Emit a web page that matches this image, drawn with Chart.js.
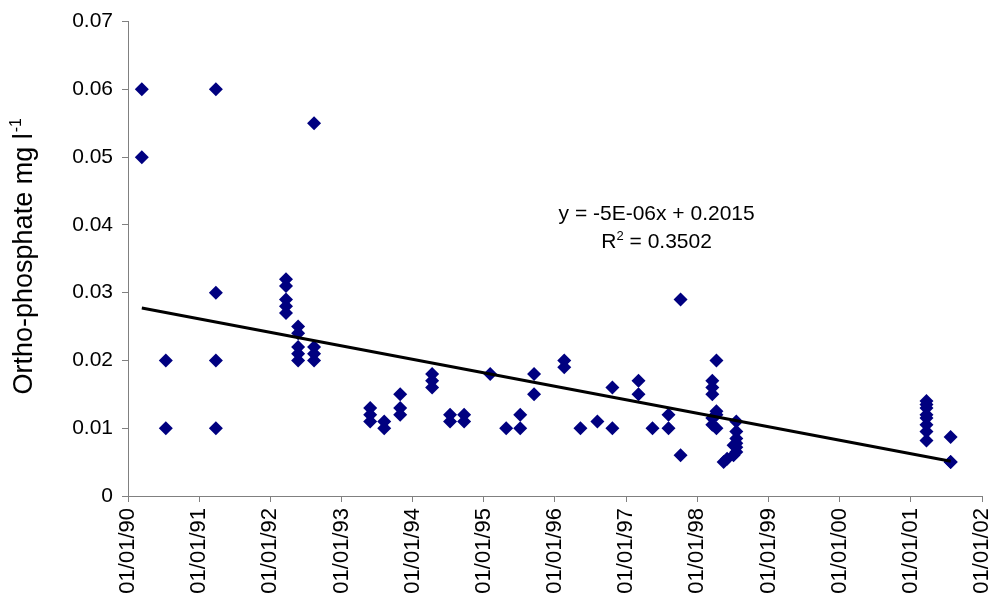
<!DOCTYPE html>
<html>
<head>
<meta charset="utf-8">
<script src="https://cdn.jsdelivr.net/npm/chart.js@4"></script>
<style>
  html, body { margin: 0; padding: 0; background: #fff; }
</style>
</head>
<body>
<canvas id="grafico" width="990" height="599"></canvas>
<script>
// sampling dates and ortho-phosphate values, mg/l
const sampleDates = [
  "1990-03-13", "1990-03-13",
  "1990-07-14", "1990-07-14",
  "1991-03-28", "1991-03-28", "1991-03-28", "1991-03-28",
  "1992-03-22", "1992-03-22", "1992-03-22", "1992-03-22", "1992-03-22",
  "1992-05-23", "1992-05-23", "1992-05-23", "1992-05-23", "1992-05-23",
  "1992-08-13", "1992-08-13", "1992-08-13", "1992-08-13",
  "1993-05-28", "1993-05-28", "1993-05-28",
  "1993-08-08", "1993-08-08",
  "1993-10-29", "1993-10-29", "1993-10-29",
  "1994-04-11", "1994-04-11", "1994-04-11",
  "1994-07-12", "1994-07-12",
  "1994-09-22", "1994-09-22",
  "1995-02-03",
  "1995-04-26",
  "1995-07-07", "1995-07-07",
  "1995-09-16", "1995-09-16",
  "1996-02-18", "1996-02-18",
  "1996-05-11",
  "1996-08-06",
  "1996-10-22", "1996-10-22",
  "1997-03-05", "1997-03-05",
  "1997-05-16",
  "1997-08-06", "1997-08-06",
  "1997-10-07", "1997-10-07",
  "1998-03-19", "1998-03-19", "1998-03-19", "1998-03-19", "1998-03-19",
  "1998-04-09", "1998-04-09", "1998-04-09", "1998-04-09",
  "1998-05-16",
  "1998-06-03",
  "1998-07-06", "1998-07-06",
  "1998-07-20", "1998-07-20", "1998-07-20", "1998-07-20", "1998-07-20", "1998-07-20",
  "2001-03-22", "2001-03-22", "2001-03-22", "2001-03-22", "2001-03-22", "2001-03-22", "2001-03-22", "2001-03-22",
  "2001-07-24", "2001-07-24", "2001-07-24"
];
const orthoPhosphate = [
  0.060, 0.050,
  0.020, 0.010,
  0.060, 0.030, 0.020, 0.010,
  0.032, 0.031, 0.029, 0.028, 0.027,
  0.025, 0.024, 0.022, 0.021, 0.020,
  0.055, 0.022, 0.021, 0.020,
  0.013, 0.012, 0.011,
  0.011, 0.010,
  0.015, 0.013, 0.012,
  0.018, 0.017, 0.016,
  0.012, 0.011,
  0.012, 0.011,
  0.018,
  0.010,
  0.012, 0.010,
  0.018, 0.015,
  0.020, 0.019,
  0.010,
  0.011,
  0.016, 0.010,
  0.017, 0.015,
  0.010,
  0.012, 0.010,
  0.029, 0.006,
  0.017, 0.016, 0.015, 0.0115, 0.0105,
  0.020, 0.0125, 0.012, 0.010,
  0.005,
  0.0055,
  0.006, 0.0075,
  0.011, 0.0095, 0.0085, 0.0078, 0.0072, 0.0065,
  0.014, 0.0135, 0.013, 0.012, 0.0115, 0.0105, 0.0095, 0.0082,
  0.0087, 0.005, 0.005
];
const tickYears = [1990, 1991, 1992, 1993, 1994, 1995, 1996, 1997, 1998, 1999, 2000, 2001, 2002];
const yTicks = [0, 0.01, 0.02, 0.03, 0.04, 0.05, 0.06, 0.07];
const equationText = "y = -5E-06x + 0.2015";
const r2Text = " = 0.3502";
const yTitle = "Ortho-phosphate mg l";

const DAY = 86400000;
function toDay(iso) {
  const p = iso.split("-").map(Number);
  return Date.UTC(p[0], p[1] - 1, p[2]) / DAY;
}
function fmtDay(d) {
  const dt = new Date(d * DAY);
  const dd = String(dt.getUTCDate()).padStart(2, "0");
  const mm = String(dt.getUTCMonth() + 1).padStart(2, "0");
  const yy = String(dt.getUTCFullYear() % 100).padStart(2, "0");
  return dd + "/" + mm + "/" + yy;
}

const pontos = sampleDates.map((d, i) => ({ x: toDay(d), y: orthoPhosphate[i] }));

// least squares trend line over the data range
const n = pontos.length;
const mx = pontos.reduce((s, p) => s + p.x, 0) / n;
const my = pontos.reduce((s, p) => s + p.y, 0) / n;
let sxy = 0, sxx = 0;
pontos.forEach(p => { sxy += (p.x - mx) * (p.y - my); sxx += (p.x - mx) * (p.x - mx); });
const slope = sxy / sxx;
const intercept = my - slope * mx;
const xMin = Math.min(...pontos.map(p => p.x));
const xMax = Math.max(...pontos.map(p => p.x));
const tendencia = [
  { x: xMin, y: intercept + slope * xMin },
  { x: xMax, y: intercept + slope * xMax }
];

const FONTE = '"Liberation Sans", Arial, sans-serif';

const textos = {
  id: "textos",
  afterDraw(chart) {
    const ctx = chart.ctx;
    const a = chart.chartArea;
    ctx.save();
    ctx.fillStyle = "#000";
    ctx.textBaseline = "middle";
    ctx.textAlign = "left";

    // equation + R²
    const cx = a.left + (a.right - a.left) * 0.619;
    const y1 = a.top + (a.bottom - a.top) * 0.405;
    const y2 = a.top + (a.bottom - a.top) * 0.466;
    ctx.font = "21px " + FONTE;
    const we = ctx.measureText(equationText).width;
    ctx.fillText(equationText, cx - we / 2, y1);
    const wR = ctx.measureText("R").width;
    const wRest = ctx.measureText(r2Text).width;
    ctx.font = "13px " + FONTE;
    const w2 = ctx.measureText("2").width;
    let x0 = cx - (wR + w2 + wRest) / 2;
    ctx.font = "21px " + FONTE;
    ctx.fillText("R", x0, y2);
    ctx.font = "13px " + FONTE;
    ctx.fillText("2", x0 + wR, y2 - 6);
    ctx.font = "21px " + FONTE;
    ctx.fillText(r2Text, x0 + wR + w2, y2);

    // y axis title
    ctx.translate(25, (a.top + a.bottom) / 2 - 2);
    ctx.rotate(-Math.PI / 2);
    ctx.font = "27px " + FONTE;
    const wt = ctx.measureText(yTitle).width;
    ctx.font = "16px " + FONTE;
    const ws = ctx.measureText("-1").width;
    const xs = -(wt + ws) / 2;
    ctx.font = "27px " + FONTE;
    ctx.fillText(yTitle, xs, 0);
    ctx.font = "16px " + FONTE;
    ctx.fillText("-1", xs + wt + 1, -8);
    ctx.restore();
  }
};

new Chart(document.getElementById("grafico"), {
  type: "scatter",
  data: {
    datasets: [
      {
        label: "tendencia",
        type: "line",
        data: tendencia,
        borderColor: "#000",
        borderWidth: 3,
        pointRadius: 0,
        fill: false,
        order: 0
      },
      {
        label: "Ortho-phosphate",
        data: pontos,
        pointStyle: "rectRot",
        pointRadius: 7,
        pointBackgroundColor: "#000080",
        pointBorderColor: "#000080",
        pointBorderWidth: 0,
        order: 1
      }
    ]
  },
  options: {
    responsive: false,
    animation: false,
    layout: { padding: { left: 44, right: 8, top: 19, bottom: 0 } },
    plugins: {
      legend: { display: false },
      tooltip: { enabled: false }
    },
    scales: {
      x: {
        type: "linear",
        min: toDay(tickYears[0] + "-01-01"),
        max: toDay(tickYears[tickYears.length - 1] + "-01-01"),
        afterBuildTicks: scale => {
          scale.ticks = tickYears.map(y => ({ value: toDay(y + "-01-01") }));
        },
        afterFit: scale => {
          scale.height = 103;
          scale.paddingRight = 0;
          scale.paddingLeft = 0;
        },
        grid: { drawOnChartArea: false, drawTicks: true, tickLength: 6, color: "#808080" },
        border: { color: "#808080", width: 1 },
        ticks: {
          color: "#000",
          font: { family: FONTE, size: 22 },
          padding: 6,
          minRotation: 90,
          maxRotation: 90,
          autoSkip: false,
          callback: v => fmtDay(v)
        }
      },
      y: {
        min: yTicks[0],
        max: yTicks[yTicks.length - 1],
        afterBuildTicks: scale => {
          scale.ticks = yTicks.map(v => ({ value: v }));
        },
        afterFit: scale => { scale.width = 84; },
        grid: { drawOnChartArea: false, drawTicks: true, tickLength: 6, color: "#808080" },
        border: { color: "#808080", width: 1 },
        ticks: {
          color: "#000",
          font: { family: FONTE, size: 21 },
          padding: 9,
          callback: v => (v === 0 ? "0" : v.toFixed(2))
        }
      }
    }
  },
  plugins: [textos]
});
</script>
</body>
</html>
